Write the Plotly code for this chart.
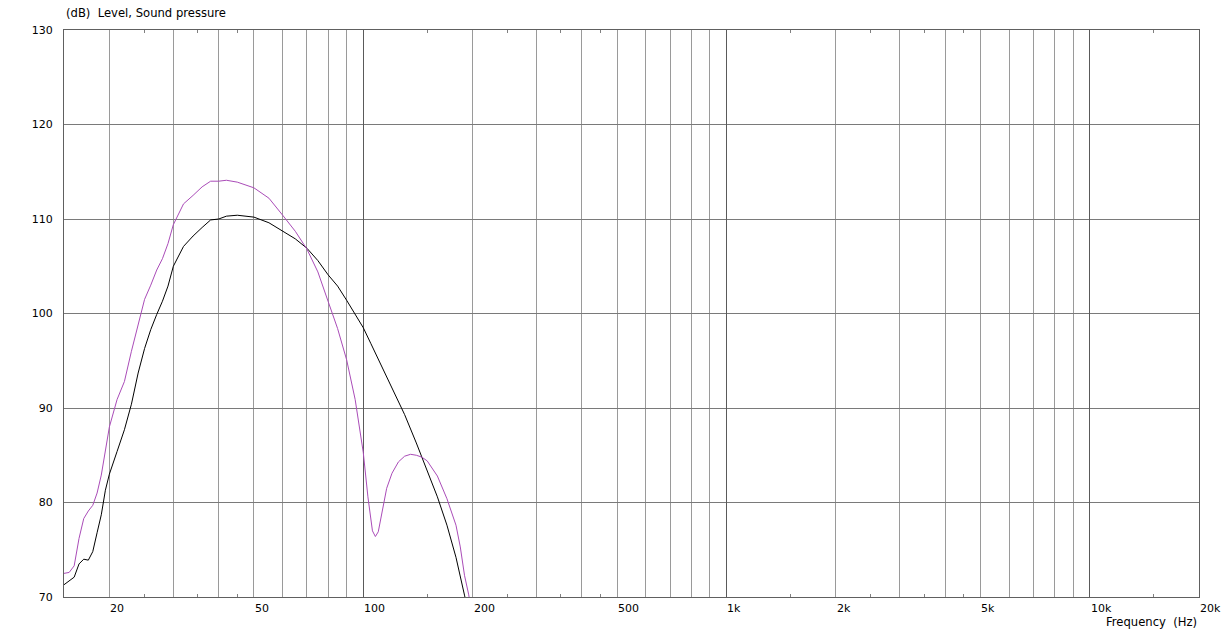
import numpy as np
import plotly.graph_objects as go

# ---- data ----
freq_black = [15, 15.5, 16, 16.5, 17, 17.5, 18, 18.5, 19, 19.5, 20, 21, 22, 23, 24, 25, 26, 27, 28, 29,
              30, 32, 34, 36, 38, 40, 42, 45, 50, 55, 60, 65, 70, 75, 80, 85, 90, 95, 100, 105,
              110, 115, 120, 130, 140, 150, 160, 170, 180, 190, 195]
level_black = [71.3, 71.7, 72.1, 73.5, 74.0, 73.9, 74.8, 76.8, 78.7, 81.3, 83.0, 85.4, 87.7, 90.4, 93.7, 96.3, 98.3, 99.9, 101.3, 102.9,
               105.0, 107.1, 108.2, 109.1, 109.9, 110.0, 110.3, 110.4, 110.2, 109.6, 108.7, 107.9, 106.9, 105.6, 104.1, 102.9, 101.4, 99.9, 98.5, 96.8,
               95.2, 93.6, 92.1, 89.3, 86.3, 83.4, 80.6, 77.6, 74.2, 70.2, 68.3]

freq_purple = [15, 15.5, 16, 16.5, 17, 17.5, 18, 18.5, 19, 19.5, 20, 21, 22, 23, 24, 25, 26, 27, 28, 29,
               30, 32, 34, 36, 38, 40, 42, 45, 50, 55, 60, 65, 70, 75, 80, 85, 90, 95, 100, 103,
               106, 108, 110, 113, 116, 120, 125, 130, 135, 140, 145, 150, 160, 170, 180, 185, 190, 195, 200]
level_purple = [72.5, 72.6, 73.3, 76.2, 78.3, 79.1, 79.7, 81.0, 82.9, 85.3, 88.0, 90.9, 92.8, 96.0, 98.9, 101.5, 103.0, 104.6, 105.8, 107.4,
                109.4, 111.6, 112.5, 113.4, 114.0, 114.0, 114.1, 113.9, 113.3, 112.2, 110.4, 108.7, 106.8, 104.4, 101.3, 98.4, 95.1, 90.9, 85.3, 80.6,
                77.0, 76.4, 76.9, 79.3, 81.5, 83.1, 84.3, 84.9, 85.1, 85.0, 84.8, 84.4, 82.8, 80.4, 77.6, 75.3, 72.3, 70.3, 68.0]

x_range = [15, 20000]
y_range = [70, 130]
y_ticks = [70, 80, 90, 100, 110, 120, 130]
x_grid = [20, 30, 40, 50, 60, 70, 80, 90, 200, 300, 400, 500, 600, 700, 800, 900,
          2000, 3000, 4000, 5000, 6000, 7000, 8000, 9000]
x_decades = [100, 1000, 10000]
x_small_ticks = [15, 25, 35, 45, 150, 250, 350, 450, 1500, 2500, 3500, 4500, 15000]
x_label_vals = [20, 50, 100, 200, 500, 1000, 2000, 5000, 10000, 20000]
x_label_text = ["20", "50", "100", "200", "500", "1k", "2k", "5k", "10k", "20k"]

FONT = "DejaVu Sans"
FS = 11
FS_T = 11.6

fig = go.Figure()
fig.add_trace(go.Scatter(x=freq_black, y=level_black, mode="lines",
                         line=dict(color="#000000", width=1), showlegend=False, hoverinfo="skip"))
fig.add_trace(go.Scatter(x=freq_purple, y=level_purple, mode="lines",
                         line=dict(color="#aa4cb8", width=1), showlegend=False, hoverinfo="skip"))
fig.add_trace(go.Scatter(x=[], y=[], xaxis="x2", showlegend=False))

xr = [np.log10(x_range[0]), np.log10(x_range[1])]

fig.update_layout(
    width=1222, height=632,
    margin=dict(l=64, r=23, t=30, b=35),
    paper_bgcolor="white", plot_bgcolor="white",
    font=dict(family=FONT, size=FS, color="#000000"),
    xaxis=dict(type="log", range=xr, tickmode="array", tickvals=x_small_ticks,
               ticks="inside", ticklen=3, tickcolor="#808080", tickwidth=1,
               showticklabels=False, showgrid=False, zeroline=False,
               showline=True, linecolor="#606060", linewidth=1, mirror="ticks",
               minor=dict(tickmode="array", tickvals=x_grid, showgrid=True,
                          gridcolor="#9a9a9a", gridwidth=1, ticks="")),
    xaxis2=dict(type="log", range=xr, overlaying="x", anchor="y", side="bottom",
                tickmode="array", tickvals=x_decades, showgrid=True,
                gridcolor="#5a5a5a", gridwidth=1, showticklabels=False, ticks="",
                showline=False, zeroline=False),
    yaxis=dict(range=y_range, tickmode="array", tickvals=y_ticks,
               ticktext=[str(v) for v in y_ticks], ticks="", showgrid=True,
               gridcolor="#7a7a7a", gridwidth=1, zeroline=False,
               showline=True, linecolor="#606060", linewidth=1, mirror=True,
               ticklabelstandoff=8, tickfont=dict(family=FONT, size=FS, color="#000")),
)

annotations = []
for v, t in zip(x_label_vals, x_label_text):
    annotations.append(dict(x=np.log10(v), xref="x", y=0, yref="paper", text=t,
                            xanchor="left", yanchor="top", yshift=-3, xshift=-1,
                            showarrow=False, font=dict(family=FONT, size=FS, color="#000")))
annotations.append(dict(x=0, xref="paper", y=1, yref="paper",
                        text="(dB)\u00a0\u00a0Level, Sound pressure",
                        xanchor="left", yanchor="middle", yshift=17, showarrow=False,
                        font=dict(family=FONT, size=FS_T, color="#000")))
annotations.append(dict(x=1, xref="paper", y=0, yref="paper",
                        text="Frequency\u00a0\u00a0(Hz)",
                        xanchor="right", yanchor="middle", yshift=-25, showarrow=False,
                        font=dict(family=FONT, size=FS_T, color="#000")))
fig.update_layout(annotations=annotations)

fig.write_html("out.html", config={"displayModeBar": False},
               post_script="document.body.style.margin='0';document.body.style.overflow='hidden';")
